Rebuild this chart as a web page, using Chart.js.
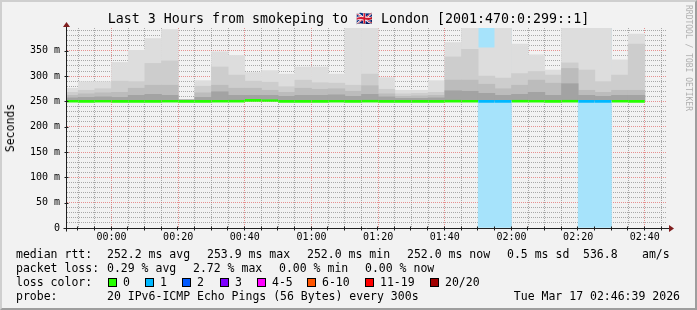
<!DOCTYPE html>
<html>
<head>
<meta charset="utf-8">
<title>smokeping - London</title>
<script src="https://cdn.jsdelivr.net/npm/chart.js@4.4.1/dist/chart.umd.min.js"></script>
<style>
  html, body { margin: 0; padding: 0; background: #f2f2f2; }
  #graph { position: relative; width: 697px; height: 310px; background: #f2f2f2; overflow: hidden;
    font-family: "DejaVu Sans Mono", monospace; color: #000; }
  #graph canvas { position: absolute; left: 0; top: 0; }
  #edge { position: absolute; left: 0; top: 0; width: 697px; height: 310px; box-sizing: border-box;
    border: 2px solid; border-color: #cfcfcf #9e9e9e #9e9e9e #cfcfcf; pointer-events: none; }
  #title { position: absolute; left: 0; top: 11px; width: 697px; text-align: center;
    font-size: 13.3px; line-height: 16px; white-space: pre; }
  #ylabel { position: absolute; left: 10px; top: 128px; font-size: 11.5px; line-height: 14px;
    white-space: pre; transform: translate(-50%, -50%) rotate(-90deg); }
  #rrd { position: absolute; left: 693px; top: 5px; font-size: 8px; line-height: 10px; color: #b0b0b0;
    white-space: pre; transform-origin: 0 0; transform: rotate(90deg); }
  .txt { position: absolute; white-space: pre; font-size: 11.5px; line-height: 14px; }
  .box { position: absolute; width: 7px; height: 7px; border: 1px solid #000; }
</style>
</head>
<body>
<div id="graph">
  <canvas id="smoke" width="697" height="310"></canvas>
  <div id="title">Last 3 Hours from smokeping to 🇬🇧 London [2001:470:0:299::1]</div>
  <div id="ylabel">Seconds</div>
  <div id="rrd">RRDTOOL / TOBI OETIKER</div>
  <div id="legend"></div>
  <div id="edge"></div>
</div>

<script>
/* ===== DATA ===== */
// end of each 5 minute sample
const times = ["23:50", "23:55", "00:00", "00:05", "00:10", "00:15", "00:20", "00:25", "00:30",
  "00:35", "00:40", "00:45", "00:50", "00:55", "01:00", "01:05", "01:10", "01:15", "01:20",
  "01:25", "01:30", "01:35", "01:40", "01:45", "01:50", "01:55", "02:00", "02:05", "02:10",
  "02:15", "02:20", "02:25", "02:30", "02:35", "02:40"];

// median rtt (ms)
const medianRtt = [252.3, 252.2, 252.3, 252.2, 252.1, 252.2, 252.3, 252.0, 252.2,
  252.3, 252.4, 253.9, 253.7, 252.2, 252.1, 252.2, 252.3, 252.2, 252.4,
  252.1, 252.0, 252.0, 252.2, 252.5, 252.3, 252.1, 252.2, 252.4, 252.3,
  252.2, 252.5, 252.2, 252.1, 252.3, 252.0];

// smoke: fastest ping, then layers going outwards to the slowest ping (ms)
const pingMin = [251.4, 251.3, 251.5, 251.4, 251.2, 251.3, 251.4, 251.5, 251.3,
  251.4, 251.5, 252.6, 252.5, 251.3, 251.2, 251.4, 251.3, 251.2, 251.5,
  251.2, 251.2, 251.1, 251.3, 251.5, 251.4, 251.2, 251.3, 251.4, 251.4,
  251.3, 251.5, 251.3, 251.2, 251.4, 251.0];
const pingInner = [257, 258, 259, 258, 262, 264, 262, 252.8, 258,
  269, 262, 262, 262, 260, 262, 262, 263, 260, 264,
  259, 256, 256, 257, 271, 270, 266, 262, 264, 268,
  262, 285, 262, 260, 262, 262];
const pingMid = [262, 265, 267, 268, 276, 282, 282, 253.2, 267,
  282, 276, 276, 272, 268, 276, 274, 275, 270, 281,
  265, 260, 261, 262, 292, 292, 284, 275, 282, 292,
  286, 315, 272, 268, 272, 272];
const pingOuter = [268, 272, 275, 290, 289, 325, 330, 253.6, 280,
  318, 302, 290, 288, 279, 292, 287, 286, 282, 304,
  274, 265, 266, 268, 338, 353, 300, 296, 305, 309,
  302, 326, 312, 289, 302, 363];
const pingMax = [276, 289, 289, 327, 351, 374, 392, 254, 291,
  348, 341, 307, 311, 304, 318, 318, 304, 398, 398,
  297, 272, 272, 291, 366, 398, 356, 398, 363, 342,
  312, 398, 398, 398, 332, 383];

// lost pings out of 20
const lostPings = [0, 0, 0, 0, 0, 0, 0, 0, 0,
  0, 0, 0, 0, 0, 0, 0, 0, 0, 0,
  0, 0, 0, 0, 0, 0, 1, 1, 0, 0,
  0, 0, 1, 1, 0, 0];

const lossLabels = ["0", "1", "2", "3", "4-5", "6-10", "11-19", "20/20"];
const lossColors = ["#26ff00", "#00b8ff", "#0059ff", "#7e00ff", "#ff00ff", "#ff5500", "#ff0000", "#a10000"];

const tickMinutes = [0, 20, 40, 60, 80, 100, 120, 140, 160];
const tickLabels = ["00:00", "00:20", "00:40", "01:00", "01:20", "01:40", "02:00", "02:20", "02:40"];
const yTicks = [0, 50, 100, 150, 200, 250, 300, 350];

/* ===== LAYOUT ===== */
const STEP = 5;              // minutes per sample
const VIEW_START = -13.35;   // 23:46:39
const VIEW_END = 166.65;     // 02:46:39
const Y_MAX = 395;
const FONT = '"DejaVu Sans Mono", monospace';

const toMinutes = t => {
  const [h, m] = t.split(":").map(Number);
  const v = h * 60 + m;
  return h >= 12 ? v - 1440 : v;
};
const centers = times.map(t => toMinutes(t) - STEP / 2);

function lossBucket(n) {
  if (n <= 3) return n;
  if (n <= 5) return 4;
  if (n <= 10) return 5;
  if (n <= 19) return 6;
  return 7;
}

/* ===== DATASETS ===== */
const barBase = {
  type: "bar",
  grouped: false,
  barPercentage: 1,
  categoryPercentage: 1,
  borderWidth: 0
};

function smokeLayer(top, color) {
  return Object.assign({}, barBase, {
    data: times.map((t, i) => ({ x: centers[i], y: [pingMin[i], top[i]] })),
    backgroundColor: color
  });
}

const medianLine = Object.assign({}, barBase, {
  data: times.map((t, i) => ({ x: centers[i], y: medianRtt[i] })),
  backgroundColor: "rgba(0,0,0,0)",
  borderColor: times.map((t, i) => lossColors[lossBucket(lostPings[i])]),
  borderWidth: { top: 2, left: 0, right: 0, bottom: 0 },
  borderSkipped: false
});

const lossBand = Object.assign({}, barBase, {
  data: times.map((t, i) => ({ x: centers[i], y: lostPings[i] > 0 ? [0, Y_MAX] : null })),
  backgroundColor: "#a6e3fb"
});

// first in list is drawn on top
const datasets = [
  medianLine,
  smokeLayer(pingInner, "#a3a3a3"),
  smokeLayer(pingMid, "#bcbcbc"),
  smokeLayer(pingOuter, "#cdcdcd"),
  smokeLayer(pingMax, "#dddddd"),
  lossBand
];

/* ===== AXES (lines, ticks, arrows) ===== */
const rrdAxes = {
  id: "rrdAxes",
  afterDatasetsDraw(chart) {
    const { ctx, chartArea: a } = chart;
    const ax = Math.floor(a.left) - 0.5;
    const ay = Math.floor(a.bottom) + 0.5;
    ctx.save();
    ctx.strokeStyle = "#1f1f1f";
    ctx.lineWidth = 1;
    ctx.beginPath();
    ["x", "xMinor"].forEach(id => {
      const s = chart.scales[id];
      s.ticks.forEach(t => {
        const px = Math.round(s.getPixelForValue(t.value)) - 0.5;
        ctx.moveTo(px, ay - 2);
        ctx.lineTo(px, ay + 2);
      });
    });
    const ys = chart.scales.y;
    ys.ticks.forEach(t => {
      const py = Math.round(ys.getPixelForValue(t.value)) + 0.5;
      ctx.moveTo(ax - 2, py);
      ctx.lineTo(ax + 2, py);
    });
    ctx.moveTo(ax - 3, ay);
    ctx.lineTo(a.right + 3, ay);
    ctx.moveTo(ax, ay + 3);
    ctx.lineTo(ax, a.top - 3);
    ctx.stroke();

    ctx.fillStyle = "#801f1f";
    ctx.beginPath();
    ctx.moveTo(a.right + 2, ay - 3.5);
    ctx.lineTo(a.right + 7, ay);
    ctx.lineTo(a.right + 2, ay + 3.5);
    ctx.closePath();
    ctx.fill();
    ctx.beginPath();
    ctx.moveTo(ax - 3.5, a.top - 1);
    ctx.lineTo(ax, a.top - 6);
    ctx.lineTo(ax + 3.5, a.top - 1);
    ctx.closePath();
    ctx.fill();
    ctx.restore();
  }
};

/* ===== CHART ===== */
Chart.defaults.font.family = FONT;
Chart.defaults.color = "#000";

const majorGrid = { color: "rgba(222,79,79,0.6)", lineWidth: 1, drawTicks: false, offset: false };
const minorGrid = { color: "rgba(143,143,143,0.75)", lineWidth: 1, drawTicks: false, offset: false };
const dotted = { display: false, dash: [1, 1] };

new Chart(document.getElementById("smoke"), {
  type: "bar",
  data: { datasets: datasets },
  options: {
    responsive: false,
    animation: false,
    events: [],
    layout: { padding: { top: 28, right: 30, bottom: 0, left: 0 } },
    plugins: { legend: { display: false }, tooltip: { enabled: false }, title: { display: false } },
    scales: {
      x: {
        type: "linear", position: "bottom", min: VIEW_START, max: VIEW_END, offset: false,
        grid: majorGrid, border: dotted,
        afterBuildTicks: s => { s.ticks = tickMinutes.map(v => ({ value: v })); },
        afterFit: s => { s.height = 82; },
        ticks: {
          padding: 3, autoSkip: false, maxRotation: 0, font: { size: 10 },
          callback: v => tickLabels[tickMinutes.indexOf(v)]
        }
      },
      xMinor: {
        type: "linear", position: "bottom", min: VIEW_START, max: VIEW_END, offset: false,
        grid: minorGrid, border: dotted, ticks: { display: false },
        afterBuildTicks: s => {
          const t = [];
          for (let v = -10; v <= 165; v += STEP) if (v % 20 !== 0) t.push({ value: v });
          s.ticks = t;
        },
        afterFit: s => { s.height = 0; }
      },
      y: {
        type: "linear", position: "left", min: 0, max: Y_MAX,
        grid: majorGrid, border: dotted,
        afterBuildTicks: s => { s.ticks = yTicks.map(v => ({ value: v })); },
        afterFit: s => { s.width = 67; },
        ticks: {
          padding: 7, font: { size: 10 },
          callback: v => (v === 0 ? "0" : v + " m")
        }
      },
      yMinor: {
        type: "linear", position: "left", min: 0, max: Y_MAX,
        grid: minorGrid, border: dotted, ticks: { display: false },
        afterBuildTicks: s => {
          const t = [];
          for (let v = 10; v < Y_MAX; v += 10) if (v % 50 !== 0) t.push({ value: v });
          s.ticks = t;
        },
        afterFit: s => { s.width = 0; }
      }
    }
  },
  plugins: [rrdAxes]
});

/* ===== LEGEND ===== */
const legend = document.getElementById("legend");

function addText(text, x, y, right) {
  const d = document.createElement("div");
  d.className = "txt";
  d.textContent = text;
  d.style.top = (y - 7) + "px";
  if (right) d.style.right = x + "px";
  else d.style.left = x + "px";
  legend.appendChild(d);
}

addText("median rtt:", 16, 254);
addText("252.2 ms avg", 107, 254);
addText("253.9 ms max", 207, 254);
addText("252.0 ms min", 307, 254);
addText("252.0 ms now", 407, 254);
addText("0.5 ms sd", 507, 254);
addText("536.8", 583, 254);
addText("am/s", 642, 254);

addText("packet loss:", 16, 268);
addText("0.29 % avg", 107, 268);
addText("2.72 % max", 193, 268);
addText("0.00 % min", 279, 268);
addText("0.00 % now", 365, 268);

addText("loss color:", 16, 282);
const lossBoxX = [108, 145, 182, 220, 257, 307, 365, 430];
lossLabels.forEach((label, i) => {
  const b = document.createElement("div");
  b.className = "box";
  b.style.left = lossBoxX[i] + "px";
  b.style.top = (282 - 4) + "px";
  b.style.background = lossColors[i];
  legend.appendChild(b);
  addText(label, lossBoxX[i] + 15, 282);
});

addText("probe:", 16, 296);
addText("20 IPv6-ICMP Echo Pings (56 Bytes) every 300s", 107, 296);
addText("Tue Mar 17 02:46:39 2026", 17, 296, true);
</script>
</body>
</html>
